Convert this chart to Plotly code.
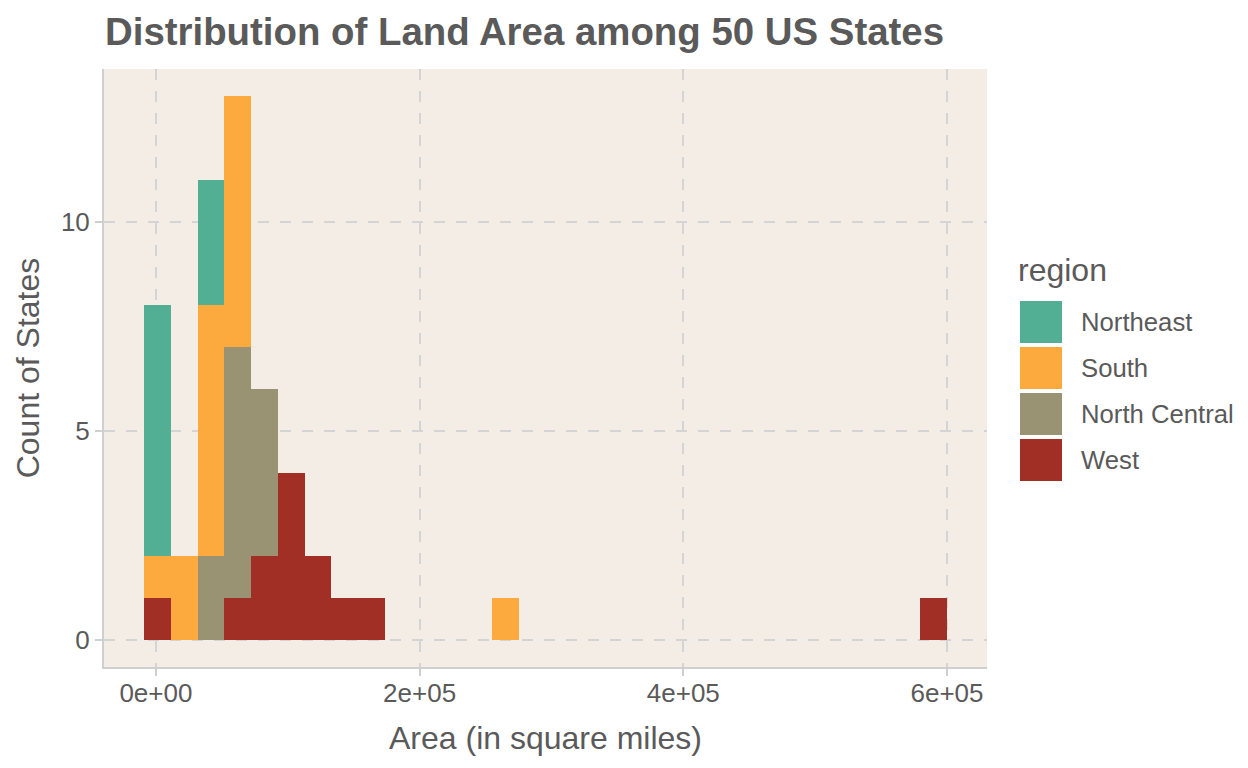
import plotly.graph_objects as go

# ---- data ----
bin_centers = [1214, 21509, 41803, 62098, 82393, 102687, 122982, 143276, 163571, 265044, 589757]
bin_width = 20294.6
regions = ["Northeast", "South", "North Central", "West"]
colors = {"Northeast": "#53AF93", "South": "#FCA93D", "North Central": "#9A9373", "West": "#A12F25"}
counts = {
    "West":          [1, 0, 0, 1, 2, 4, 2, 1, 1, 0, 1],
    "North Central": [0, 0, 2, 6, 4, 0, 0, 0, 0, 0, 0],
    "South":         [1, 2, 6, 6, 0, 0, 0, 0, 0, 1, 0],
    "Northeast":     [6, 0, 3, 0, 0, 0, 0, 0, 0, 0, 0],
}
x_ticks = [0, 200000, 400000, 600000]
x_tick_labels = ["0e+00", "2e+05", "4e+05", "6e+05"]
y_ticks = [0, 5, 10]

W, H = 1248, 768
ML, MR, MT, MB = 104, 261, 69, 101
PW, PH = W - ML - MR, H - MT - MB
TXT = "#5a5a5a"
FONT = "Helvetica, Liberation Sans, Arial, sans-serif"
GRID = "#D4D4D4"


def px(X):
    return (X - ML) / PW


def py(Y):
    return (H - MB - Y) / PH


fig = go.Figure()
# stack: West at bottom, Northeast on top
for r in ["West", "North Central", "South", "Northeast"]:
    fig.add_trace(go.Bar(
        x=bin_centers, y=counts[r], width=bin_width, name=r,
        marker=dict(color=colors[r], line=dict(width=0)),
        showlegend=False,
    ))

fig.update_layout(
    width=W, height=H,
    margin=dict(l=ML, r=MR, t=MT, b=MB, autoexpand=False),
    barmode="stack", bargap=0,
    paper_bgcolor="white", plot_bgcolor="#F4EDE6",
    font=dict(family=FONT, color=TXT, size=26),
    title=dict(text="<b>Distribution of Land Area among 50 US States</b>",
               x=105 / W, xanchor="left", xref="container",
               y=1 - 32 / H, yanchor="middle", yref="container",
               font=dict(size=38.4, color=TXT, family=FONT)),
    xaxis=dict(range=[-39375, 630346], tickvals=x_ticks, ticktext=x_tick_labels,
               showgrid=True, gridcolor=GRID, griddash="11px,11px", gridwidth=2,
               zeroline=False, showline=True, linecolor="#CFCFCF", linewidth=2,
               ticks="outside", ticklen=7, tickwidth=2, tickcolor="#CFCFCF",
               ticklabelstandoff=-5,
               tickfont=dict(size=26, color=TXT),
               title=dict(text="Area (in square miles)", font=dict(size=32, color=TXT), standoff=19)),
    yaxis=dict(range=[-0.65, 13.65], tickvals=y_ticks,
               showgrid=True, gridcolor=GRID, griddash="11px,11px", gridwidth=2,
               zeroline=False, showline=True, linecolor="#CFCFCF", linewidth=2,
               ticks="outside", ticklen=7, tickwidth=2, tickcolor="#CFCFCF",
               tickfont=dict(size=26, color=TXT),
               title=dict(text="Count of States", font=dict(size=32, color=TXT), standoff=12)),
)

# ---- custom legend (ggplot style) ----
fig.add_annotation(text="region", x=px(1016), y=py(270), xref="paper", yref="paper",
                   xanchor="left", yanchor="middle", showarrow=False,
                   font=dict(size=32, color=TXT, family=FONT))
key_top = 301
for i, r in enumerate(regions):
    y0 = key_top + i * 46
    fig.add_shape(type="rect", xref="paper", yref="paper",
                  x0=px(1020), x1=px(1062), y0=py(y0), y1=py(y0 + 42),
                  fillcolor=colors[r], line=dict(width=0), layer="above")
    fig.add_annotation(text=r, x=px(1079), y=py(y0 + 21), xref="paper", yref="paper",
                       xanchor="left", yanchor="middle", showarrow=False,
                       font=dict(size=25.7, color=TXT, family=FONT))

fig.write_html("out.html", config={"displayModeBar": False},
               post_script="document.body.style.margin='0';")
